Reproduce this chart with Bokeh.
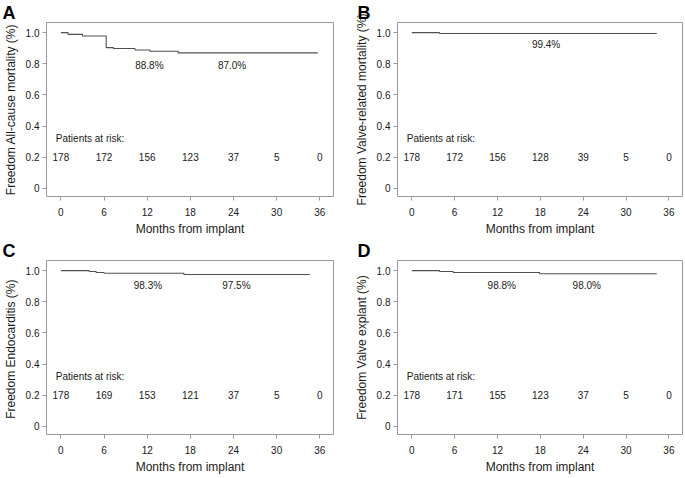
from bokeh.plotting import figure
from bokeh.layouts import gridplot
from bokeh.models import Range1d, FixedTicker
from bokeh.core.properties import value
from bokeh.embed import file_html
from bokeh.resources import INLINE

# ---------------- data ----------------
month_ticks = [0, 6, 12, 18, 24, 30, 36]
y_ticks = [0, 0.2, 0.4, 0.6, 0.8, 1.0]
y_tick_labels = ["0", "0.2", "0.4", "0.6", "0.8", "1.0"]

panel_letters = ["A", "B", "C", "D"]
y_titles = [
    "Freedom All-cause mortality (%)",
    "Freedom Valve-related mortality (%)",
    "Freedom  Endocarditis (%)",
    "Freedom Valve explant (%)",
]
x_title = "Months from implant"

# Kaplan-Meier step curves (time in months, survival fraction)
a_time = [0, 1.0, 3.0, 6.3, 7.3, 10.3, 12.4, 16.3, 35.7]
a_surv = [1.0, 0.989, 0.978, 0.904, 0.898, 0.888, 0.880, 0.870, 0.870]
b_time = [0, 3.9, 34.3]
b_surv = [1.0, 0.994, 0.994]
c_time = [0, 3.95, 4.9, 6.0, 17.1, 34.6]
c_surv = [1.0, 0.994, 0.988, 0.983, 0.975, 0.975]
d_time = [0, 3.9, 5.8, 17.9, 34.3]
d_surv = [1.0, 0.994, 0.988, 0.980, 0.980]

# percentage annotations
a_pct = ["88.8%", "87.0%"]
a_pct_x = [12.3, 23.8]
a_pct_y = [0.79, 0.79]
b_pct = ["99.4%"]
b_pct_x = [18.8]
b_pct_y = [0.921]
c_pct = ["98.3%", "97.5%"]
c_pct_x = [12.1, 24.4]
c_pct_y = [0.906, 0.906]
d_pct = ["98.8%", "98.0%"]
d_pct_x = [12.6, 24.5]
d_pct_y = [0.906, 0.906]

# patients at risk
risk_title = "Patients at risk:"
a_risk = [178, 172, 156, 123, 37, 5, 0]
b_risk = [178, 172, 156, 128, 39, 5, 0]
c_risk = [178, 169, 153, 121, 37, 5, 0]
d_risk = [178, 171, 155, 123, 37, 5, 0]
risk_y = 0.2
risk_title_pos = (-0.7, 0.323)

FONT = "Liberation Sans"
TXT = "#1a1a1a"
BOX = "#9a9a9a"
CURVE = "#505050"


def make_panel(letter, ytitle, t, s, pct, pct_x, pct_y, risk, left_pad, right_pad, width, letter_off):
    p = figure(width=width, height=238, output_backend="svg", toolbar_location=None,
               x_range=Range1d(-2.0, 37.9), y_range=Range1d(-0.052, 1.065),
               min_border_left=left_pad, min_border_right=right_pad,
               min_border_top=10, min_border_bottom=30)
    p.title.text = letter
    p.title.text_font = FONT
    p.title.text_font_size = "18px"
    p.title.text_font_style = "bold"
    p.title.text_color = "black"
    p.title.align = "left"
    p.title.offset = letter_off
    p.title.standoff = 0

    p.background_fill_color = "white"
    p.border_fill_color = "white"
    p.outline_line_color = BOX
    p.outline_line_width = 1
    p.grid.visible = False

    for ax in (p.xaxis[0], p.yaxis[0]):
        ax.axis_line_color = None
        ax.major_tick_line_color = BOX
        ax.major_tick_in = 0
        ax.major_tick_out = 4
        ax.minor_tick_line_color = None
        ax.major_label_text_font = FONT
        ax.major_label_text_font_size = "10px"
        ax.major_label_text_color = TXT
        ax.axis_label_text_font = FONT
        ax.axis_label_text_font_size = "12px"
        ax.axis_label_text_font_style = "normal"
        ax.axis_label_text_color = TXT

    p.xaxis.ticker = FixedTicker(ticks=month_ticks)
    p.xaxis.major_label_standoff = 7
    p.xaxis.axis_label = x_title
    p.xaxis.axis_label_standoff = 3

    p.yaxis.ticker = FixedTicker(ticks=y_ticks)
    p.yaxis.major_label_overrides = {t_: l_ for t_, l_ in zip(y_ticks, y_tick_labels)}
    p.yaxis.major_label_standoff = 3
    p.yaxis.axis_label = ytitle
    p.yaxis.axis_label_standoff = 5

    p.step(t, s, mode="after", line_color=CURVE, line_width=1.1)

    p.text(x=pct_x, y=pct_y, text=pct, text_font=value(FONT), text_font_size="10px",
           text_color=TXT, text_align="center", text_baseline="middle")

    p.text(x=[risk_title_pos[0]], y=[risk_title_pos[1]], text=[risk_title],
           text_font=value(FONT), text_font_size="10px", text_color=TXT,
           text_align="left", text_baseline="middle")
    p.text(x=month_ticks, y=[risk_y] * len(month_ticks), text=[str(v) for v in risk],
           text_font=value(FONT), text_font_size="10px", text_color=TXT,
           text_align="center", text_baseline="middle")
    return p


pA = make_panel(panel_letters[0], y_titles[0], a_time, a_surv, a_pct, a_pct_x, a_pct_y, a_risk, 46, 9, 342, -44)
pB = make_panel(panel_letters[1], y_titles[1], b_time, b_surv, b_pct, b_pct_x, b_pct_y, b_risk, 55, 1, 341, -40)
pC = make_panel(panel_letters[2], y_titles[2], c_time, c_surv, c_pct, c_pct_x, c_pct_y, c_risk, 46, 9, 342, -44)
pD = make_panel(panel_letters[3], y_titles[3], d_time, d_surv, d_pct, d_pct_x, d_pct_y, d_risk, 55, 1, 341, -40)

grid = gridplot([[pA, pB], [pC, pD]], toolbar_location=None)

open("out.html", "w").write(file_html(grid, INLINE))
